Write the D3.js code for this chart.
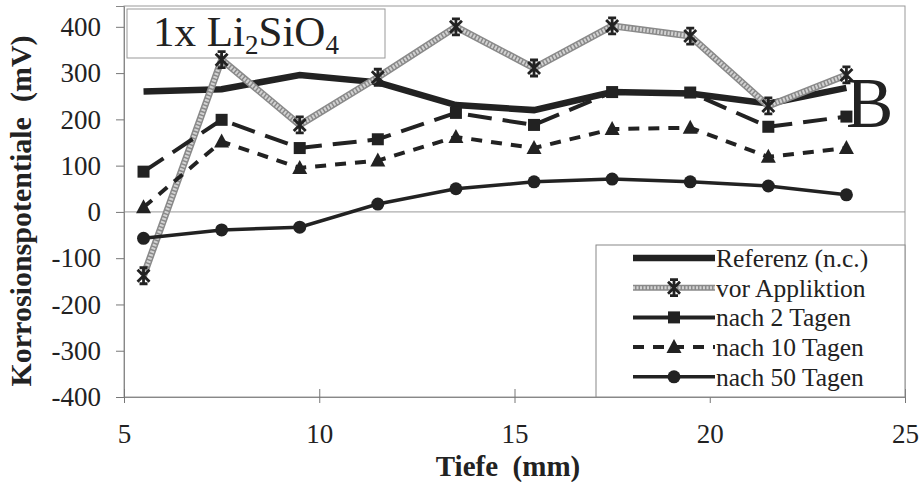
<!DOCTYPE html>
<html>
<head>
<meta charset="utf-8">
<script src="https://cdn.jsdelivr.net/npm/d3@7"></script>
<style>
  body { margin: 0; background: #fff; }
  text { font-family: "Liberation Serif", "Times New Roman", serif; fill: #222; }
</style>
</head>
<body>
<div id="chart"></div>
<script>
var depth = [5.5, 7.5, 9.5, 11.5, 13.5, 15.5, 17.5, 19.5, 21.5, 23.5];
var referenz = [260, 265, 296, 280, 231, 220, 259, 256, 234, 268];
var vorApplikation = [-138, 329, 188, 291, 400, 311, 402, 380, 229, 296];
var nach2 = [87, 199, 138, 157, 214, 188, 259, 258, 184, 206];
var nach10 = [10, 152, 95, 111, 162, 138, 179, 182, 119, 138];
var nach50 = [-57, -39, -33, 17, 50, 65, 71, 65, 56, 37];
var seriesNames = ["Referenz (n.c.)", "vor Appliktion", "nach 2 Tagen", "nach 10 Tagen", "nach 50 Tagen"];
var xTicks = [5, 10, 15, 20, 25];
var yTicks = [-400, -300, -200, -100, 0, 100, 200, 300, 400];

var width = 922, height = 482;
var svg = d3.select("#chart").append("svg").attr("width", width).attr("height", height);

var x = d3.scaleLinear().domain([5, 25]).range([124, 905]);
var y = d3.scaleLinear().domain([-400, 445]).range([397, 6]);

// plot frame and zero line
svg.append("rect")
  .attr("x", x(5)).attr("y", y(445))
  .attr("width", x(25) - x(5)).attr("height", y(-400) - y(445))
  .attr("fill", "none").attr("stroke", "#999").attr("stroke-width", 1);

svg.append("line")
  .attr("x1", x(5)).attr("x2", x(25)).attr("y1", y(0)).attr("y2", y(0))
  .attr("stroke", "#999").attr("stroke-width", 1);

// axes (plain hyphen for negatives, like the original)
var fmt = function(d) { return String(d); };
var yAxis = svg.append("g").attr("transform", "translate(" + x(5) + ",0)")
  .call(d3.axisLeft(y).tickValues(yTicks).tickSize(8).tickPadding(15).tickFormat(fmt));
var xAxis = svg.append("g").attr("transform", "translate(0," + y(-400) + ")")
  .call(d3.axisBottom(x).tickValues(xTicks).tickSize(6).tickPadding(21).tickFormat(fmt));

[yAxis, xAxis].forEach(function(a) {
  a.attr("font-family", null).attr("font-size", null);
  a.select(".domain").attr("stroke", "#888");
  a.selectAll(".tick line").attr("stroke", "#777");
  a.selectAll(".tick text").style("font-family", "'Liberation Serif', serif")
    .style("font-size", "27px").attr("fill", "#333");
});
yAxis.selectAll(".tick line").attr("x2", 0).attr("x1", -8);
xAxis.selectAll(".tick line").attr("y1", -8).attr("y2", 6);

// axis titles
svg.append("text")
  .attr("transform", "translate(31,211) rotate(-90)")
  .attr("text-anchor", "middle")
  .attr("xml:space", "preserve")
  .style("font-size", "30px").style("font-weight", "bold")
  .text("Korrosionspotentiale  (mV)");

svg.append("text")
  .attr("x", 508).attr("y", 476)
  .attr("text-anchor", "middle")
  .attr("xml:space", "preserve")
  .style("font-size", "29px").style("font-weight", "bold")
  .text("Tiefe  (mm)");

// title box
svg.append("rect")
  .attr("x", 127).attr("y", 9).attr("width", 258).attr("height", 49)
  .attr("fill", "#fff").attr("stroke", "#999").attr("stroke-width", 1);

var title = svg.append("text").attr("x", 153).attr("y", 46).style("font-size", "43px");
title.append("tspan").text("1x Li");
title.append("tspan").attr("dy", 8).style("font-size", "27px").text("2");
title.append("tspan").attr("dy", -8).text("SiO");
title.append("tspan").attr("dy", 8).style("font-size", "27px").text("4");

var line = d3.line().x(function(d) { return x(d[0]); }).y(function(d) { return y(d[1]); });
function pts(vals) { return depth.map(function(d, i) { return [d, vals[i]]; }); }

// markers
function drawMarker(g, type, cx, cy) {
  if (type === "square") {
    g.append("rect").attr("x", cx - 6).attr("y", cy - 6).attr("width", 12).attr("height", 12).attr("fill", "#222");
  } else if (type === "triangle") {
    g.append("path").attr("d", "M" + cx + "," + (cy - 8) + "L" + (cx + 7.5) + "," + (cy + 6) + "L" + (cx - 7.5) + "," + (cy + 6) + "Z").attr("fill", "#222");
  } else if (type === "circle") {
    g.append("circle").attr("cx", cx).attr("cy", cy).attr("r", 6.5).attr("fill", "#222");
  } else if (type === "star") {
    g.append("path")
      .attr("d", "M" + (cx - 6) + "," + (cy - 6) + "L" + (cx + 6) + "," + (cy + 6) +
        "M" + (cx + 6) + "," + (cy - 6) + "L" + (cx - 6) + "," + (cy + 6) +
        "M" + cx + "," + (cy - 8) + "L" + cx + "," + (cy + 8) +
        "M" + (cx - 4) + "," + (cy - 8) + "L" + (cx + 4) + "," + (cy - 8) +
        "M" + (cx - 4) + "," + (cy + 8) + "L" + (cx + 4) + "," + (cy + 8))
      .attr("stroke", "#222").attr("stroke-width", 2.8).attr("fill", "none");
  }
}

var series = [
  {name: seriesNames[0], values: referenz, width: 6.5, dash: null, marker: null, legendDash: null},
  {name: seriesNames[1], values: vorApplikation, width: 7, dash: null, marker: "star", hatch: true, legendDash: null},
  {name: seriesNames[2], values: nach2, width: 4, dash: "24,11", marker: "square", legendDash: null},
  {name: seriesNames[3], values: nach10, width: 4, dash: "11,9", marker: "triangle", legendDash: "11,9"},
  {name: seriesNames[4], values: nach50, width: 3.5, dash: null, marker: "circle", legendDash: null}
];

function drawLine(g, data, s, dash) {
  if (s.hatch) {
    g.append("path").attr("d", line(data)).attr("fill", "none")
      .attr("stroke", "#8a8a8a").attr("stroke-width", s.width);
    g.append("path").attr("d", line(data)).attr("fill", "none")
      .attr("stroke", "#d2d2d2").attr("stroke-width", s.width - 3)
      .attr("stroke-dasharray", "2,1.5");
  } else {
    g.append("path").attr("d", line(data)).attr("fill", "none")
      .attr("stroke", "#222").attr("stroke-width", s.width)
      .attr("stroke-dasharray", dash);
  }
}

series.forEach(function(s) {
  var g = svg.append("g");
  var data = pts(s.values);
  drawLine(g, data, s, s.dash);
  if (s.marker) {
    data.forEach(function(d) { drawMarker(g, s.marker, x(d[0]), y(d[1])); });
  }
});

// big letter B
svg.append("text").attr("x", 846).attr("y", 127).style("font-size", "71px").text("B");

// legend
var legend = svg.append("g");
legend.append("rect").attr("x", 596).attr("y", 245).attr("width", 309).attr("height", 152)
  .attr("fill", "#fff").attr("stroke", "#888").attr("stroke-width", 1);

series.forEach(function(s, i) {
  var ly = 258 + i * 29.7;
  var g = legend.append("g");
  var data = [[0, 0], [1, 0]];
  var lx = d3.scaleLinear().domain([0, 1]).range([633, 715]);
  var seg = d3.line().x(function(d) { return lx(d[0]); }).y(function() { return ly; });
  if (s.hatch) {
    g.append("path").attr("d", seg(data)).attr("stroke", "#8a8a8a").attr("stroke-width", 6);
    g.append("path").attr("d", seg(data)).attr("stroke", "#d2d2d2").attr("stroke-width", 3).attr("stroke-dasharray", "2,1.5");
  } else {
    g.append("path").attr("d", seg(data)).attr("stroke", "#222").attr("stroke-width", s.width)
      .attr("stroke-dasharray", s.legendDash);
  }
  if (s.marker) drawMarker(g, s.marker, lx(0.5), ly);
  g.append("text").attr("x", 716).attr("y", ly + 9).style("font-size", "25.5px").text(s.name);
});
</script>
</body>
</html>
